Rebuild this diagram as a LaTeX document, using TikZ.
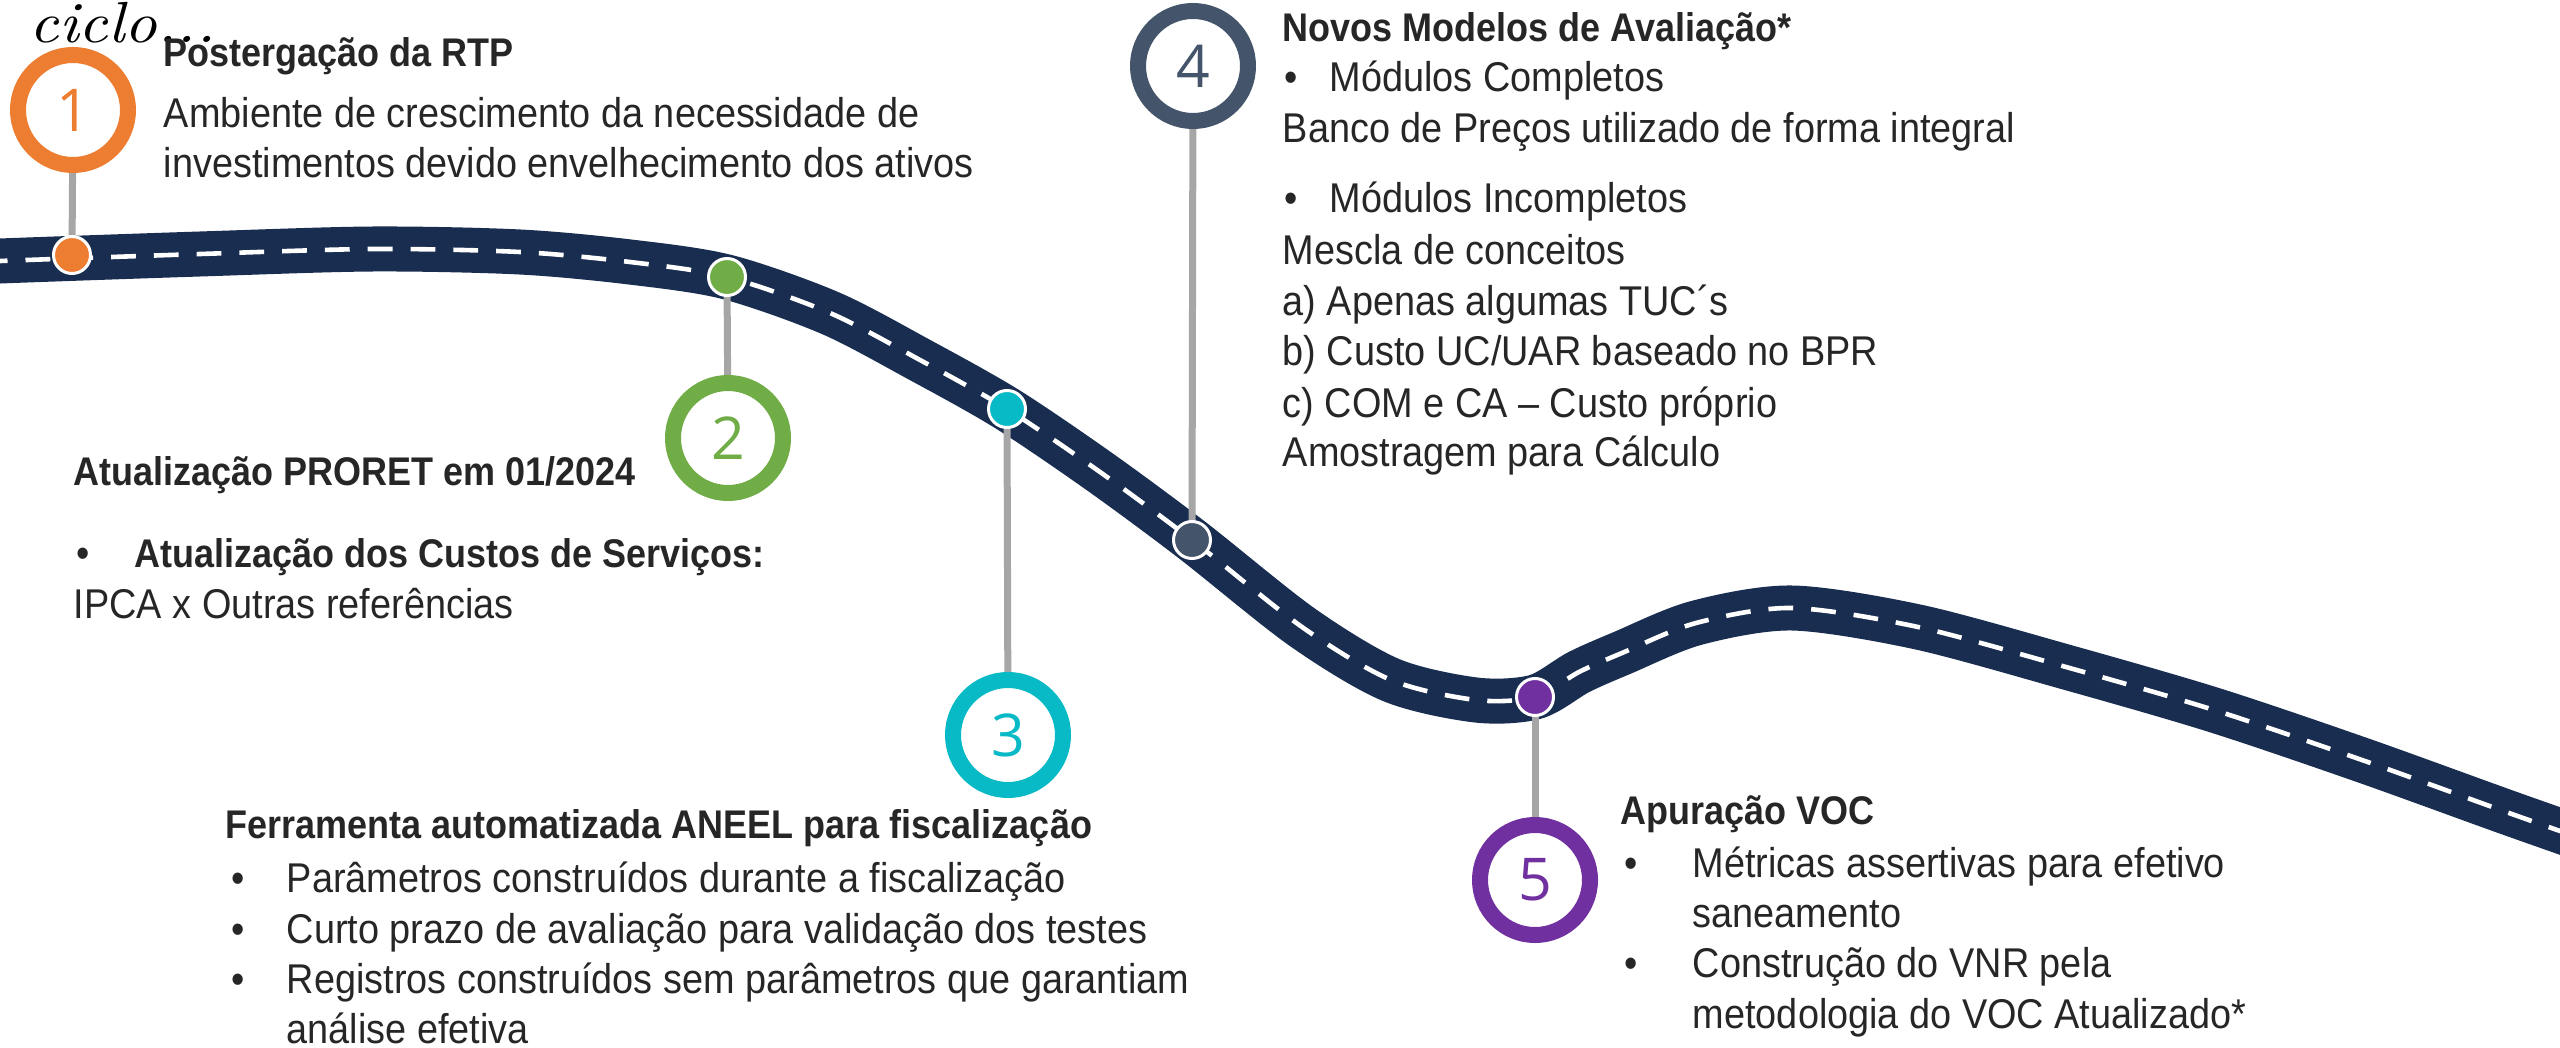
\documentclass[tikz,border=0pt]{standalone}
\usepackage{fontspec}
\newfontfamily\txtfont{Liberation Sans}[FakeStretch=0.91]
\newfontfamily\ttlfont{Liberation Sans Bold}[FakeStretch=0.9]
\newfontfamily\numfont{Open Sans}
\newfontfamily\cicfont{lmroman10-italic.otf}[FakeStretch=1.1]
\usetikzlibrary{backgrounds}
\definecolor{roadc}{HTML}{192D50}
\definecolor{textc}{HTML}{262626}
\definecolor{stemc}{HTML}{A6A6A6}
\definecolor{c1}{HTML}{ED7D31}
\definecolor{c2}{HTML}{70AD47}
\definecolor{c3}{HTML}{08B9C6}
\definecolor{c4}{HTML}{44546A}
\definecolor{c5}{HTML}{7030A0}
\tikzset{
  txt/.style={anchor=base west, inner sep=0pt, text=textc, font=\txtfont\fontsize{10.4}{12}\selectfont},
  ttl/.style={anchor=base west, inner sep=0pt, text=textc, font=\ttlfont\fontsize{10}{12}\selectfont},
  ring/.style={circle, draw=#1, fill=white, line width=4pt, minimum size=27.5pt, inner sep=0pt, text=#1, font=\numfont\fontsize{14.75}{15}\selectfont},
  dot/.style={circle, fill=#1, draw=white, line width=0.75pt, minimum size=9.25pt, inner sep=0pt},
  stem/.style={draw=stemc, line width=1.75pt},
  roadline/.style={draw=roadc, line width=11.25pt, postaction={draw=white, line width=1.15pt, dash pattern=on 6.2pt off 4.5pt}}
}
\begin{document}
\begin{tikzpicture}[x=0.25pt, y=-0.25pt]
\useasboundingbox (0,0) rectangle (2560,1048);

% rings and dots
\node[ring=c1] (r1) at (73,110) {1};
\node[ring=c2] (r2) at (728,438) {2};
\node[ring=c3] (r3) at (1008,735) {3};
\node[ring=c4] (r4) at (1193,66) {4};
\node[ring=c5] (r5) at (1535,880) {5};
\node[dot=c1] (d1) at (72,255) {};
\node[dot=c2] (d2) at (727,277) {};
\node[dot=c3] (d3) at (1007,409) {};
\node[dot=c4] (d4) at (1192,540) {};
\node[dot=c5] (d5) at (1535,697) {};

\begin{pgfonlayer}{background}
\begin{scope}
\clip (0,0) rectangle (2560,1048);
\draw[roadline] plot[smooth, tension=0.5] coordinates {(-60,264) (0,261) (200,254) (373,249) (520,252) (630,262) (727,277) (830,313) (920,360) (1007,409) (1100,472) (1192,540) (1302,627) (1391,680) (1476,700) (1535,697) (1579,672) (1622,653) (1696,623) (1792,608) (1918,627) (2066,667) (2214,710) (2362,760) (2509,813) (2620,852)};
\end{scope}
\draw[stem] (r1.center) -- (d1.center);
\draw[stem] (r2.center) -- (d2.center);
\draw[stem] (r3.center) -- (d3.center);
\draw[stem] (r4.center) -- (d4.center);
\draw[stem] (r5.center) -- (d5.center);
\end{pgfonlayer}

% ciclo...
\node[anchor=base west, inner sep=0pt, font=\cicfont\fontsize{14.5}{15}\selectfont] (ciclo) at (29,43) {ciclo...};

% block 1
\node[ttl] (t1h) at (163,67) {Postergação da RTP};
\node[txt] (t1a) at (163,128) {Ambiente de crescimento da necessidade de};
\node[txt] (t1b) at (163,178) {investimentos devido envelhecimento dos ativos};

% block 2
\node[ttl] (t2h) at (73,485) {Atualização PRORET em 01/2024};
\node[txt] (b2a) at (76,567) {•};
\node[ttl] (t2a) at (134,567) {Atualização dos Custos de Serviços:};
\node[txt] (t2b) at (73,618) {IPCA x Outras referências};

% block 3
\node[ttl] (t3h) at (225,838) {Ferramenta automatizada ANEEL para fiscalização};
\node[txt] (b3a) at (231,892) {•};
\node[txt] (t3a) at (286,892) {Parâmetros construídos durante a fiscalização};
\node[txt] (b3b) at (231,943) {•};
\node[txt] (t3b) at (286,943) {Curto prazo de avaliação para validação dos testes};
\node[txt] (b3c) at (231,993) {•};
\node[txt] (t3c) at (286,993) {Registros construídos sem parâmetros que garantiam};
\node[txt] (t3d) at (286,1043) {análise efetiva};

% block 4
\node[ttl] (t4h) at (1282,42) {Novos Modelos de Avaliação*};
\node[txt] (b4a) at (1284,92) {•};
\node[txt] (t4a) at (1329,92) {Módulos Completos};
\node[txt] (t4b) at (1282,143) {Banco de Preços utilizado de forma integral};
\node[txt] (b4b) at (1284,213) {•};
\node[txt] (t4c) at (1329,213) {Módulos Incompletos};
\node[txt] (t4d) at (1282,265) {Mescla de conceitos};
\node[txt] (t4e) at (1282,315) {a) Apenas algumas TUC´s};
\node[txt] (t4f) at (1282,366) {b) Custo UC/UAR baseado no BPR};
\node[txt] (t4g) at (1282,417) {c) COM e CA – Custo próprio};
\node[txt] (t4i) at (1282,467) {Amostragem para Cálculo};

% block 5
\node[ttl] (t5h) at (1620,824) {Apuração VOC};
\node[txt] (b5a) at (1624,877) {•};
\node[txt] (t5a) at (1692,877) {Métricas assertivas para efetivo};
\node[txt] (t5b) at (1692,927) {saneamento};
\node[txt] (b5b) at (1624,977) {•};
\node[txt] (t5c) at (1692,977) {Construção do VNR pela};
\node[txt] (t5d) at (1692,1028) {metodologia do VOC Atualizado*};
\end{tikzpicture}
\end{document}
